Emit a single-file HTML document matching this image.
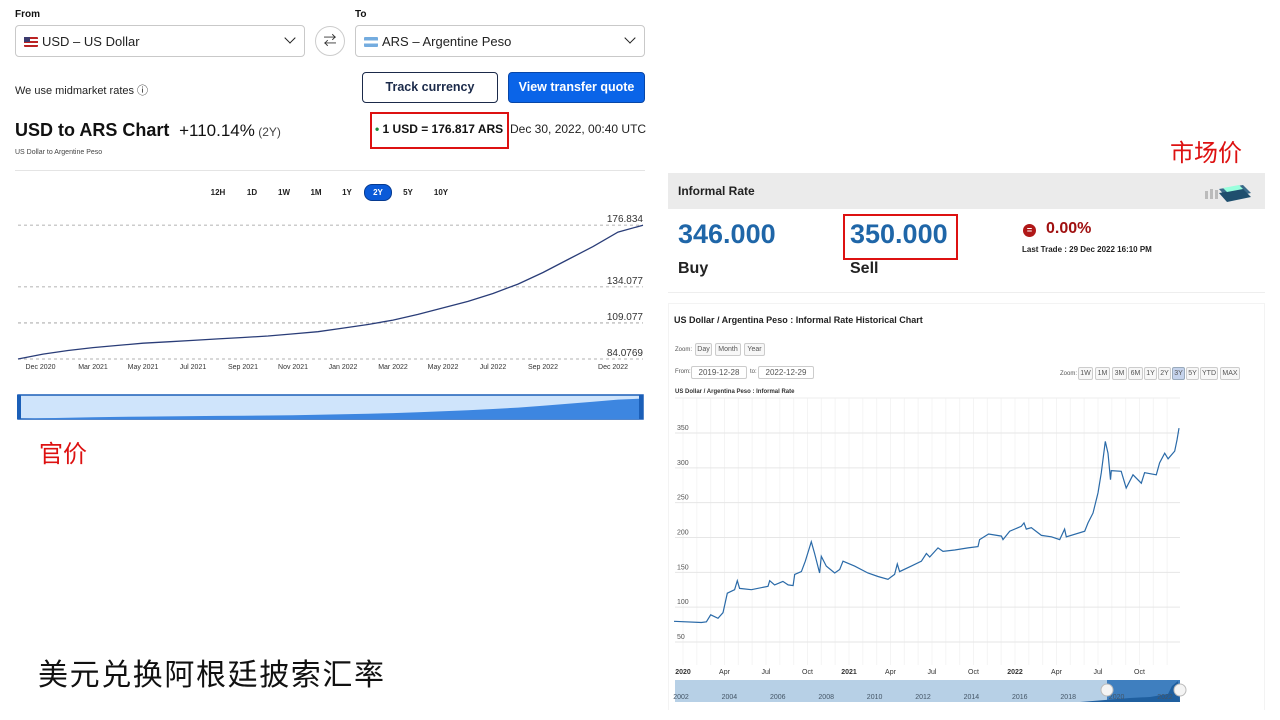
<!DOCTYPE html>
<html><head><meta charset="utf-8">
<style>
*{box-sizing:border-box;margin:0;padding:0}
body{width:1280px;height:720px;background:#fff;position:relative;overflow:hidden;font-family:"Liberation Sans","Noto Sans CJK SC",sans-serif;color:#111}
.a{position:absolute;white-space:nowrap}
.dd{position:absolute;border:1px solid #c9c9c9;border-radius:4px;height:32px;top:25px;background:#fff}
.dd span{position:absolute;left:26px;top:8px;font-size:13px;color:#222}
.dd i{position:absolute;right:10px;top:8px;width:8px;height:8px;border-right:1.5px solid #222;border-bottom:1.5px solid #222;transform:rotate(45deg)}
.flag{position:absolute;left:8px;top:11px;width:14px;height:10px;border-radius:1px}
.rb{position:absolute;top:185px;font-size:8px;font-weight:bold;color:#222;width:28px;text-align:center;line-height:15px}
.zb{position:absolute;height:13px;border:1px solid #ccc;border-radius:2px;font-size:7px;color:#555;text-align:center;line-height:11px;background:#f7f7f7}
</style></head><body>
<div class="a" style="left:15px;top:9px;font-size:10px;font-weight:bold">From</div>
<div class="dd" style="left:15px;width:290px"><div class="flag" style="background:linear-gradient(#b22 0 20%,#fff 20% 40%,#b22 40% 60%,#fff 60% 80%,#b22 80%)"><div style="width:6px;height:5px;background:#3c3b6e"></div></div><span>USD – US Dollar</span><i></i></div>
<div class="a" style="left:315px;top:26px;width:30px;height:30px;border:1px solid #ccc;border-radius:50%;text-align:center;line-height:28px;font-size:13px;color:#333">⇄</div>
<div class="a" style="left:355px;top:9px;font-size:10px;font-weight:bold">To</div>
<div class="dd" style="left:355px;width:290px"><div class="flag" style="background:linear-gradient(#74acdf 0 33%,#fff 33% 66%,#74acdf 66%)"></div><span>ARS – Argentine Peso</span><i></i></div>
<div class="a" style="left:15px;top:82px;font-size:11px;color:#222">We use midmarket rates ⓘ</div>
<div class="a" style="left:362px;top:72px;width:136px;height:31px;border:1.5px solid #1b2a4a;border-radius:4px;text-align:center;line-height:28px;font-size:12.5px;font-weight:bold;color:#1b2a4a">Track currency</div>
<div class="a" style="left:508px;top:72px;width:137px;height:31px;background:#0a64e8;border:1px solid #0746a8;border-radius:4px;text-align:center;line-height:29px;font-size:12.5px;font-weight:bold;color:#fff">View transfer quote</div>
<div class="a" style="left:15px;top:120px;font-size:18px;font-weight:bold">USD to ARS Chart <span style="font-weight:normal;font-size:17px">&nbsp;+110.14%</span><span style="font-weight:normal;font-size:12px;color:#444"> (2Y)</span></div>
<div class="a" style="left:15px;top:149px;font-size:7px;color:#444">US Dollar to Argentine Peso</div>
<div class="a" style="left:370px;top:112px;width:139px;height:37px;border:2px solid #d11"></div>
<div class="a" style="left:375px;top:122px;font-size:12px;font-weight:bold"><span style="color:#1a8a3a">•</span> 1 USD = 176.817 ARS</div>
<div class="a" style="left:510px;top:122px;font-size:12px;color:#222">Dec 30, 2022, 00:40 UTC</div>
<div class="a" style="left:15px;top:170px;width:630px;height:1px;background:#e4e4e4"></div>
<div class="rb" style="left:204px">12H</div>
<div class="rb" style="left:238px">1D</div>
<div class="rb" style="left:270px">1W</div>
<div class="rb" style="left:302px">1M</div>
<div class="rb" style="left:333px">1Y</div>
<div class="rb" style="left:364px;background:#0a5ad8;color:#fff;border-radius:8px;border:1px solid #063a90;height:17px;top:184px">2Y</div>
<div class="rb" style="left:394px">5Y</div>
<div class="rb" style="left:427px">10Y</div>

<svg class="a" style="left:0;top:200px" width="660" height="225" id="lsvg"></svg>
<div class="a" style="left:39px;top:434px;font-size:24px;color:#d11">官价</div>
<div class="a" style="left:38px;top:650px;font-size:30px;letter-spacing:1.6px;color:#111">美元兑换阿根廷披索汇率</div>

<div class="a" style="left:1170px;top:133px;font-size:24px;color:#d11">市场价</div>
<div class="a" style="left:668px;top:173px;width:597px;height:120px;border-bottom:1px solid #eee">
 <div class="a" style="left:0;top:0;width:597px;height:36px;background:#ebebeb"></div>
 <div class="a" style="left:10px;top:11px;font-size:12px;font-weight:bold;color:#222">Informal Rate</div>
 <svg class="a" style="left:535px;top:8px" width="50" height="22"><rect x="2" y="10" width="3" height="8" fill="#bbb"/><rect x="7" y="8" width="3" height="10" fill="#bbb"/><rect x="12" y="9" width="3" height="9" fill="#bbb"/><polygon points="16,8 40,4 48,12 24,17" fill="#3a6a8a"/><polygon points="16,12 40,8 48,16 24,21" fill="#1f4f6e"/><polygon points="20,7 36,4 40,8 24,11" fill="#9fd"/></svg>
 <div class="a" style="left:10px;top:46px;font-size:27px;font-weight:bold;color:#1f66a8">346.000</div>
 <div class="a" style="left:10px;top:87px;font-size:16px;font-weight:bold;color:#222">Buy</div>
 <div class="a" style="left:182px;top:46px;font-size:27px;font-weight:bold;color:#1f66a8">350.000</div>
 <div class="a" style="left:175px;top:41px;width:115px;height:46px;border:2px solid #d11"></div>
 <div class="a" style="left:182px;top:87px;font-size:16px;font-weight:bold;color:#222">Sell</div>
 <div class="a" style="left:355px;top:51px;width:13px;height:13px;border-radius:50%;background:#b01818;color:#fff;font-size:9px;text-align:center;line-height:13px;font-weight:bold">=</div>
 <div class="a" style="left:378px;top:47px;font-size:16px;font-weight:bold;color:#a01010">0.00%</div>
 <div class="a" style="left:354px;top:72px;font-size:8px;font-weight:bold;color:#222">Last Trade : 29 Dec 2022 16:10 PM</div>
</div>

<div class="a" style="left:668px;top:303px;width:597px;height:407px;border:1px solid #f3f3f3;border-bottom:none">
 <div class="a" style="left:5px;top:11px;font-size:9px;font-weight:bold;color:#222">US Dollar / Argentina Peso : Informal Rate Historical Chart</div>
 <div class="a" style="left:6px;top:43px;font-size:6px;color:#555">Zoom:</div>
 <div class="zb" style="left:26px;top:39px;width:17px">Day</div>
 <div class="zb" style="left:46px;top:39px;width:26px">Month</div>
 <div class="zb" style="left:75px;top:39px;width:21px">Year</div>
 <div class="a" style="left:6px;top:65px;font-size:6px;color:#555">From:</div>
 <div class="zb" style="left:22px;top:62px;width:56px;background:#fff;font-size:8px">2019-12-28</div>
 <div class="a" style="left:81px;top:65px;font-size:6px;color:#555">to:</div>
 <div class="zb" style="left:89px;top:62px;width:56px;background:#fff;font-size:8px">2022-12-29</div>
 <div class="a" style="left:391px;top:67px;font-size:6px;color:#555">Zoom:</div>
 <div class="zb" style="left:409px;top:63px;width:15px">1W</div>
 <div class="zb" style="left:426px;top:63px;width:15px">1M</div>
 <div class="zb" style="left:443px;top:63px;width:15px">3M</div>
 <div class="zb" style="left:459px;top:63px;width:15px">6M</div>
 <div class="zb" style="left:475px;top:63px;width:13px">1Y</div>
 <div class="zb" style="left:489px;top:63px;width:13px">2Y</div>
 <div class="zb" style="left:503px;top:63px;width:13px;background:#c5d3ec;border-color:#9ab">3Y</div>
 <div class="zb" style="left:517px;top:63px;width:13px">5Y</div>
 <div class="zb" style="left:531px;top:63px;width:18px">YTD</div>
 <div class="zb" style="left:551px;top:63px;width:20px">MAX</div>
 <div class="a" style="left:6px;top:85px;font-size:6px;font-weight:bold;color:#333">US Dollar / Argentina Peso : Informal Rate</div>
</div>
<svg class="a" style="left:0;top:0" width="1280" height="720" id="rsvg"></svg>

<script>
// ---- Left chart (official rate) ----
const lMonths = [0,1,2,3,4,5,6,7,8,9,10,11,12,13,14,15,16,17,18,19,20,21,22,23,24,25];
const lValues = [84.08,87.5,90,92,93.5,95,96,97,98,99,100,101.5,103,105.5,108,111,115,119.5,124,129.5,136,144,153,162,172,176.8];
const lTicks = [84.0769,109.077,134.077,176.834];
const lTickLabels = ["84.0769","109.077","134.077","176.834"];
const lXLabels = ["Dec 2020","Mar 2021","May 2021","Jul 2021","Sep 2021","Nov 2021","Jan 2022","Mar 2022","May 2022","Jul 2022","Sep 2022","Dec 2022"];
const lXLabelMonths = [0.9,3,5,7,9,11,13,15,17,19,21,23.8];

// ---- Right chart (informal rate) ----
const rT = [-0.054,0.110,0.141,0.167,0.211,0.241,0.267,0.311,0.327,0.341,0.412,0.512,0.522,0.552,0.602,0.633,0.663,0.673,0.713,0.737,0.773,0.793,0.823,0.833,0.863,0.914,0.944,0.964,1.034,1.114,1.175,1.235,1.275,1.291,1.305,1.375,1.436,1.466,1.486,1.536,1.566,1.637,1.717,1.777,1.787,1.841,1.918,1.928,1.968,2.038,2.054,2.068,2.098,2.159,2.219,2.269,2.299,2.309,2.420,2.440,2.470,2.500,2.520,2.544,2.560,2.575,2.580,2.640,2.670,2.711,2.761,2.781,2.851,2.871,2.902,2.922,2.962,2.976,2.988];
const rV = [79.7,78,79,89,84,92,120,125,138,127,125,130,138,132,137,132,131,147,151,166,194,177,149,173,159,149,154,166,159,149,144,140,147,162,151,159,166,177,172,185,180,182,185,187,197,205,202,197,209,216,221,212,214,203,201,197,212,201,209,221,235,264,293,338,321,283,296,295,271,290,278,293,290,307,321,313,324,340,357];
const rTicks = [50,100,150,200,250,300,350];
const rXLabels = ["2020","Apr","Jul","Oct","2021","Apr","Jul","Oct","2022","Apr","Jul","Oct"];
const rXLabelT = [0,0.25,0.5,0.75,1,1.25,1.5,1.75,2,2.25,2.5,2.75];
const navYears = ["2002","2004","2006","2008","2010","2012","2014","2016","2018","2020","2022"];

const NS="http://www.w3.org/2000/svg";
function mk(p,tag,attrs,txt){const e=document.createElementNS(NS,tag);for(const k in attrs)e.setAttribute(k,attrs[k]);if(txt!==undefined)e.textContent=txt;p.appendChild(e);return e;}

const lsvg=document.getElementById('lsvg');
const lx=m=>18+m*25;
const ly=v=>159-(v-84.0769)*1.443;
lTicks.forEach((t,i)=>{
  const g=mk(lsvg,'line',{x1:18,x2:643,y1:ly(t),y2:ly(t),stroke:'#999','stroke-dasharray':'3,3','stroke-width':0.8});
  
  
  const l=mk(lsvg,'text',{x:643,y:ly(t)-3,'text-anchor':'end','font-size':10,fill:'#333'},lTickLabels[i]);
  
  
});
lXLabels.forEach((s,i)=>{
  const t=mk(lsvg,'text',{x:lx(lXLabelMonths[i]),y:169,'text-anchor':'middle','font-size':7,fill:'#333'},s);
  
  
});
let lp=lMonths.map((m,i)=>(i?'L':'M')+lx(m).toFixed(1)+','+ly(lValues[i]).toFixed(1)).join(' ');
const lline=mk(lsvg,'path',{d:lp,fill:'none',stroke:'#2a3d78','stroke-width':1.3});


const nav=mk(lsvg,'rect',{x:18,y:195,width:625,height:24,fill:'#cfe4fb',stroke:'#1b5fb8','stroke-width':1.5});


const nx=m=>18+m*25, ny=v=>219-(v-84)*0.22;
let np='M18,219 '+lMonths.map((m,i)=>'L'+nx(m).toFixed(1)+','+ny(lValues[i]).toFixed(1)).join(' ')+' L643,219 Z';
const narea=mk(lsvg,'path',{d:np,fill:'#3d86e0'});


[18,640].forEach(x=>{const h=mk(lsvg,'rect',{x:x-1,y:195,width:4,height:24,fill:'#1b5fb8'});
 
 });

const rsvg=document.getElementById('rsvg');
const rx=t=>683+t*166;
const ry=v=>642-(v-50)*0.6967;
for(let m=-1;m<=36;m++){const x=rx(m/12);if(x<675||x>1180)continue;
 const v=mk(rsvg,'line',{x1:x,x2:x,y1:398,y2:665,stroke:'#f4f4f4','stroke-width':1});
 
 }
mk(rsvg,'line',{x1:675,x2:1180,y1:398,y2:398,stroke:'#eee'});
rTicks.forEach(t=>{
  const g=mk(rsvg,'line',{x1:675,x2:1180,y1:ry(t),y2:ry(t),stroke:'#e6e6e6','stroke-width':1});
  
  
  const l=mk(rsvg,'text',{x:677,y:ry(t)-3,'font-size':7,fill:'#555'},String(t));
  
  
});
rXLabels.forEach((s,i)=>{
  const bold=/^\d/.test(s);
  const t=mk(rsvg,'text',{x:rx(rXLabelT[i]),y:674,'text-anchor':'middle','font-size':7,'font-weight':bold?'bold':'normal',fill:'#333'},s);
  
  
});
let rp=rT.map((t,i)=>(i?'L':'M')+rx(t).toFixed(1)+','+ry(rV[i]).toFixed(1)).join(' ');
const rline=mk(rsvg,'path',{d:rp,fill:'none',stroke:'#2a6aa8','stroke-width':1.2});


const rn=mk(rsvg,'rect',{x:675,y:680,width:505,height:22,fill:'#b7d0e6'});


mk(rsvg,'rect',{x:1107,y:680,width:73,height:22,fill:'#3f7fbf'});
const nrx=y=>681+(y-2002)*24.2;
let nap='M1080,702 L1105,700 L1130,698 L1150,697 L1168,694 L1172,686 L1178,681 L1180,702 Z';
const rna=mk(rsvg,'path',{d:nap,fill:'#1f5f9f'});


navYears.forEach((y,i)=>{const t=mk(rsvg,'text',{x:nrx(+y),y:699,'text-anchor':'middle','font-size':7,fill:'#456'},y);
 
 });
[1107,1180].forEach(x=>{const c=mk(rsvg,'circle',{cx:x,cy:690,r:6,fill:'#f4f4f4',stroke:'#bbb'});
 
 });
</script>
</body></html>
